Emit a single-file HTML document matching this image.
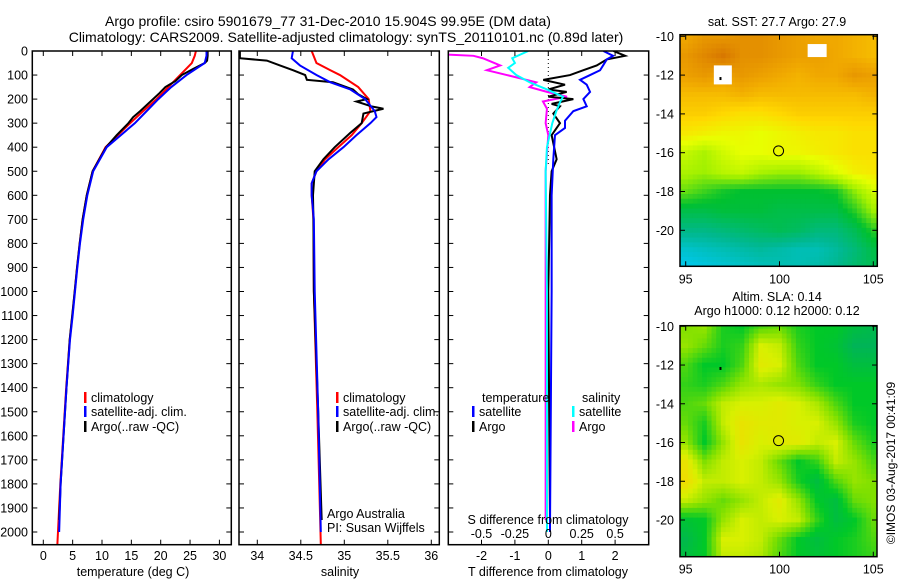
<!DOCTYPE html>
<html><head><meta charset="utf-8"><style>
html,body{margin:0;padding:0;background:#fff;}
svg{display:block;font-family:"Liberation Sans",sans-serif;}
</style></head><body>
<svg id="fig" width="900" height="580" viewBox="0 0 900 580" xmlns="http://www.w3.org/2000/svg">
<g id="titles">
<text x="328" y="26" font-size="14" text-anchor="middle">Argo profile: csiro 5901679_77 31-Dec-2010 15.904S 99.95E (DM data)</text>
<text x="346" y="42" font-size="14" text-anchor="middle">Climatology: CARS2009. Satellite-adjusted climatology: synTS_20110101.nc (0.89d later)</text>
</g>
<g id="p1"></g>
<g id="p2"></g>
<g id="p3"></g>
<g id="m1"></g>
<g id="m2"></g>
<text x="0" y="0" font-size="12" text-anchor="middle" transform="translate(895,463) rotate(-90)">©IMOS 03-Aug-2017 00:41:09</text>
</svg>
<script>
// ---- profile data ----
const depthTClim = [0,20,50,100,150,200,250,300,400,500,600,700,800,900,1000,1100,1200,1400,1600,1800,2000,2050];
const tClim = [26.0,25.8,25.3,23.3,21.3,19.3,17.0,14.8,10.6,8.4,7.4,6.7,6.2,5.75,5.35,4.95,4.5,3.9,3.4,2.9,2.5,2.4];
const depthTSat = [0,20,50,100,150,200,250,300,400,500,600,700,800,900,1000,1100,1200,1400,1600,1800,2000];
const tSat = [27.8,27.8,27.5,24.4,21.8,19.6,17.6,15.6,10.8,8.5,7.5,6.8,6.25,5.8,5.4,5.0,4.55,3.95,3.45,2.95,2.7];
const depthTArgo = [0,20,40,50,75,100,125,150,175,200,225,250,275,300,350,400,500,600,700,800,900,1000,1200,1400,1600,1800,1950];
const tArgo = [28.0,28.0,27.9,27.5,25.5,23.6,22.5,20.8,19.8,18.7,17.6,16.5,15.3,14.5,12.5,10.7,8.4,7.4,6.7,6.2,5.75,5.35,4.5,3.95,3.45,2.95,2.7];

const depthSClim = [0,50,80,100,150,200,250,300,350,400,450,500,550,600,700,1000,1500,2050];
const sClim = [34.625,34.68,34.84,34.95,35.16,35.28,35.30,35.2,35.085,34.93,34.78,34.68,34.625,34.625,34.645,34.65,34.69,34.73];
const depthSSat = [0,30,60,100,130,160,200,250,275,300,350,400,450,500,550,600,700,1000,1500,2000];
const sSat = [34.41,34.395,34.49,34.68,34.84,35.07,35.24,35.35,35.37,35.30,35.14,34.99,34.82,34.68,34.625,34.625,34.65,34.66,34.7,34.73];
const depthSArgo = [0,30,40,60,80,100,120,130,160,180,200,210,230,240,260,300,340,400,450,500,600,700,1000,1500,1950];
const sArgo = [33.8,33.8,34.11,34.26,34.41,34.55,34.57,34.87,35.10,35.16,35.26,35.14,35.31,35.45,35.22,35.2,35.07,34.89,34.76,34.66,34.64,34.645,34.65,34.7,34.74];

const depthDT = [0,20,35,60,80,100,120,140,170,200,230,250,290,320,350,450,600,1000,2000];
const dTSat = [1.65,1.94,1.75,1.64,1.55,1.25,0.95,1.15,1.25,1.05,1.15,0.75,0.5,0.5,0.2,0.15,0.1,0.1,0.05];
const depthDTA = [0,20,35,60,80,100,120,140,160,170,190,200,220,230,260,300,350,450,500,600,1000,1950];
const dTArgo = [1.95,2.3,1.75,1.45,1.05,0.65,-0.15,0.5,0,0.55,0,0.75,0.1,0.35,0.15,0.35,0.1,0.25,0.1,0.05,0.0,0.05];
const depthDS = [0,30,50,70,100,130,160,190,210,250,300,400,500,1000,2000];
const dSSat = [-0.15,-0.27,-0.25,-0.30,-0.24,-0.14,-0.01,0.11,0.09,0.06,0.03,-0.01,-0.02,-0.01,-0.01];
const depthDSA = [0,15,20,30,60,80,100,130,150,170,190,210,240,300,350,500,1000,1950];
const dSArgo = [-0.75,-0.75,-0.56,-0.49,-0.36,-0.46,-0.31,-0.09,-0.14,-0.01,0.14,-0.04,-0.01,-0.02,0.0,-0.02,-0.02,-0.02];

const depthTicks = [0,100,200,300,400,500,600,700,800,900,1000,1100,1200,1300,1400,1500,1600,1700,1800,1900,2000];
const tempTicks = [0,5,10,15,20,25,30];
const salTicks = [34,34.5,35,35.5,36];
const salTickLabels = ["34","34.5","35","35.5","36"];
const dTTicks = [-2,-1,0,1,2];
const dSTicks = [-0.5,-0.25,0,0.25,0.5];
const dSTickLabels = ["-0.5","-0.25","0","0.25","0.5"];

// ---- map data (rows lat -10..-22, cols lon 95..105) ----
const mapLons = [95,96,97,98,99,100,101,102,103,104,105];
const mapLats = [-10,-11,-12,-13,-14,-15,-16,-17,-18,-19,-20,-21,-22];
const sstGrid = [
[28.2,28.4,28.4,28.5,28.5,28.4,28.3,28.2,28.2,28.1,28.0],
[28.4,28.6,28.8,28.5,28.5,28.4,28.3,28.3,28.2,28.1,28.0],
[28.3,28.4,28.3,28.4,28.3,28.2,28.1,28.2,28.2,28.4,28.3],
[28.0,28.0,28.0,28.1,28.0,28.0,28.0,28.0,28.0,28.0,28.1],
[27.8,27.8,27.7,27.6,27.6,27.7,27.8,27.8,27.8,27.8,27.8],
[27.5,27.4,27.3,27.3,27.2,27.3,27.4,27.5,27.5,27.6,27.6],
[26.9,26.7,27.0,27.2,27.2,27.3,27.3,27.4,27.5,27.6,27.6],
[26.7,26.6,26.8,26.9,26.7,26.6,26.6,26.8,27.1,27.4,27.5],
[26.3,26.1,25.9,25.8,25.8,25.8,25.8,25.8,25.9,26.5,27.0],
[25.6,25.6,25.7,25.7,25.7,25.6,25.6,25.6,25.6,26.0,26.6],
[25.1,25.1,25.2,25.3,25.4,25.5,25.4,25.2,25.2,25.5,26.0],
[24.5,24.6,24.7,24.8,24.9,24.8,24.7,24.7,24.9,25.2,25.6],
[24.2,24.3,24.4,24.5,24.6,24.7,24.7,24.8,25.0,25.3,25.5]];
const slaGrid = [
[0.55,0.6,0.35,0.3,0.45,0.5,0.35,0.3,0.3,0.2,0.15],
[0.6,0.5,0.35,0.4,0.75,0.7,0.4,0.3,0.25,0.1,0.1],
[0.45,0.3,0.3,0.45,0.8,0.75,0.45,0.3,0.3,0.2,0.2],
[0.4,0.35,0.45,0.6,0.65,0.6,0.55,0.4,0.3,0.3,0.3],
[0.45,0.5,0.7,0.75,0.75,0.8,0.75,0.65,0.45,0.3,0.3],
[0.5,0.35,0.7,0.85,0.8,0.8,0.75,0.75,0.6,0.35,0.3],
[0.6,0.3,0.6,0.85,0.75,0.8,0.8,0.7,0.75,0.5,0.35],
[0.85,0.55,0.7,0.75,0.7,0.5,0.3,0.4,0.7,0.6,0.45],
[0.9,0.7,0.7,0.75,0.7,0.6,0.35,0.2,0.45,0.6,0.55],
[0.7,0.6,0.5,0.6,0.7,0.8,0.6,0.3,0.2,0.5,0.55],
[0.25,0.3,0.6,0.75,0.7,0.75,0.7,0.4,0.2,0.3,0.5],
[0.15,0.3,0.75,0.75,0.7,0.5,0.3,0.2,0.3,0.35,0.45],
[0.2,0.3,0.7,0.7,0.65,0.45,0.3,0.25,0.3,0.35,0.4]];
const mapLatTicks = [-10,-12,-14,-16,-18,-20];
const mapLonTicks = [95,100,105];

const NS = "http://www.w3.org/2000/svg";
function el(parent, tag, attrs, text){
  const e = document.createElementNS(NS, tag);
  for (const k in attrs) e.setAttribute(k, attrs[k]);
  if (text !== undefined) e.textContent = text;
  parent.appendChild(e);
  return e;
}
const yTop = 51, yBot = 544.7, pxPerM = (532 - 51) / 2000;
function yD(d){ return yTop + d * pxPerM; }
function makeX(px0, v0, pxPerUnit){ return v => px0 + (v - v0) * pxPerUnit; }
const xT = makeX(43.3, 0, 5.87);
const xS = makeX(257.3, 34, 87);
const xDT = makeX(548.3, 0, 33.4);
const xDS = makeX(548.3, 0, 133.6);

function drawFrame(g, x0, x1, xticks, xfn, labels, showDepthLabels, topTicks){
  const f = el(g, 'rect', {x:x0, y:yTop, width:x1-x0, height:yBot-yTop, fill:'none', stroke:'#000', 'stroke-width':1.5});
  
  
  depthTicks.forEach(d => {
    const y = yD(d);
    el(g, 'line', {x1:x0, x2:x0+5, y1:y, y2:y, stroke:'#000', 'stroke-width':1});
    el(g, 'line', {x1:x1-5, x2:x1, y1:y, y2:y, stroke:'#000', 'stroke-width':1});
    if (showDepthLabels){
      const t = el(g, 'text', {x:28, y:y+4.5, 'font-size':12.5, 'text-anchor':'end'}, String(d));
      
      
    }
  });
  xticks.forEach((v,i) => {
    const x = xfn(v);
    el(g, 'line', {x1:x, x2:x, y1:yBot, y2:yBot-5, stroke:'#000', 'stroke-width':1});
    if (topTicks) el(g, 'line', {x1:x, x2:x, y1:yTop, y2:yTop+5, stroke:'#000', 'stroke-width':1});
    if (labels){
      const t = el(g, 'text', {x:x, y:560, 'font-size':12.5, 'text-anchor':'middle'}, labels[i]);
      
      
    }
  });
}
function drawLine(g, depths, vals, xfn, color, name){
  const d = depths.map((dd,i) => (i?'L':'M') + xfn(vals[i]).toFixed(2) + ',' + yD(dd).toFixed(2)).join(' ');
  const p = el(g, 'path', {d:d, fill:'none', stroke:color, 'stroke-width':2, 'stroke-linejoin':'miter'});
  
  
  return p;
}
function legend(g, x, y, color, label){
  if (color) el(g, 'rect', {x:x, y:y-10, width:2.5, height:11, fill:color});
  const t = el(g, 'text', {x:x+7, y:y, 'font-size':12.5}, label);
  
  
}

// Panel 1
const p1 = document.getElementById('p1');
const c1 = el(p1, 'clipPath', {id:'cl1'}); el(c1, 'rect', {x:32.3, y:yTop, width:199, height:yBot-yTop});
const g1 = el(p1, 'g', {'clip-path':'url(#cl1)'});
drawLine(g1, depthTClim, tClim, xT, '#f00', 'temp-climatology-line');
drawLine(g1, depthTArgo, tArgo, xT, '#000', 'temp-argo-line');
drawLine(g1, depthTSat, tSat, xT, '#00f', 'temp-satellite-line');
drawFrame(p1, 32.3, 231.3, tempTicks, xT, tempTicks.map(String), true, true);
el(p1, 'text', {x:133, y:576, 'font-size':12.5, 'text-anchor':'middle',  }, 'temperature (deg C)');
legend(p1, 84, 402, '#f00', 'climatology');
legend(p1, 84, 416, '#00f', 'satellite-adj. clim.');
legend(p1, 84, 431, '#000', 'Argo(..raw -QC)');

// Panel 2
const p2 = document.getElementById('p2');
const c2 = el(p2, 'clipPath', {id:'cl2'}); el(c2, 'rect', {x:239, y:yTop, width:200.3, height:yBot-yTop});
const g2 = el(p2, 'g', {'clip-path':'url(#cl2)'});
drawLine(g2, depthSClim, sClim, xS, '#f00', 'sal-climatology-line');
drawLine(g2, depthSArgo, sArgo, xS, '#000', 'sal-argo-line');
drawLine(g2, depthSSat, sSat, xS, '#00f', 'sal-satellite-line');
drawFrame(p2, 239, 439.3, salTicks, xS, salTickLabels, false, true);
el(p2, 'text', {x:340, y:576, 'font-size':12.5, 'text-anchor':'middle',  }, 'salinity');
legend(p2, 336, 402, '#f00', 'climatology');
legend(p2, 336, 416, '#00f', 'satellite-adj. clim.');
legend(p2, 336, 431, '#000', 'Argo(..raw -QC)');
el(p2, 'text', {x:327, y:518, 'font-size':12.5,  }, 'Argo Australia');
el(p2, 'text', {x:327, y:532, 'font-size':12.5,  }, 'PI: Susan Wijffels');

// Panel 3
const p3 = document.getElementById('p3');
const c3 = el(p3, 'clipPath', {id:'cl3'}); el(c3, 'rect', {x:448.3, y:yTop, width:200.4, height:yBot-yTop});
const g3 = el(p3, 'g', {'clip-path':'url(#cl3)'});
el(g3, 'line', {x1:xDT(0), x2:xDT(0), y1:yTop, y2:yD(480), stroke:'#000', 'stroke-width':1, 'stroke-dasharray':'1,3',  });
drawLine(g3, depthDSA, dSArgo, xDS, '#f0f', 'sal-diff-argo-line');
drawLine(g3, depthDTA, dTArgo, xDT, '#000', 'temp-diff-argo-line');
drawLine(g3, depthDT, dTSat, xDT, '#00f', 'temp-diff-satellite-line');
drawLine(g3, depthDS, dSSat, xDS, '#0ff', 'sal-diff-satellite-line');
drawFrame(p3, 448.3, 648.7, dTTicks, xDT, dTTicks.map(String), false, true);
dSTicks.forEach((v,i) => {
  const t = el(p3, 'text', {x:xDS(v), y:538, 'font-size':12.5, 'text-anchor':'middle'}, dSTickLabels[i]);
  
  
});
el(p3, 'text', {x:548, y:524, 'font-size':12.5, 'text-anchor':'middle',  }, 'S difference from climatology');
el(p3, 'text', {x:548, y:576, 'font-size':12.5, 'text-anchor':'middle',  }, 'T difference from climatology');
legend(p3, 475, 402, null, 'temperature');
legend(p3, 472, 416, '#00f', 'satellite');
legend(p3, 472, 431, '#000', 'Argo');
legend(p3, 575, 402, null, 'salinity');
legend(p3, 572, 416, '#0ff', 'satellite');
legend(p3, 572, 431, '#f0f', 'Argo');

// Maps
function interpColor(stops, v){
  if (v <= stops[0][0]) return 'rgb(' + stops[0][1].join(',') + ')';
  for (let i=1;i<stops.length;i++){
    if (v <= stops[i][0]){
      const a = stops[i-1], b = stops[i], t = (v-a[0])/(b[0]-a[0]);
      const c = a[1].map((x,k) => Math.round(x + (b[1][k]-x)*t));
      return 'rgb(' + c.join(',') + ')';
    }
  }
  return 'rgb(' + stops[stops.length-1][1].join(',') + ')';
}
const sstStops = [[24.2,[0,200,240]],[25.0,[0,184,144]],[25.8,[0,192,48]],[26.6,[160,240,0]],[27.2,[232,255,0]],[27.7,[255,216,0]],[28.2,[240,168,0]],[28.8,[216,120,0]],[29.3,[192,80,0]]];
const slaStops = [[0,[0,170,110]],[0.3,[0,200,40]],[0.55,[128,224,0]],[0.75,[216,240,0]],[1,[255,208,0]]];

function sampleGrid(grid, lon, lat){
  const fj = Math.max(0, Math.min(mapLons.length-1.001, lon - mapLons[0]));
  const fi = Math.max(0, Math.min(mapLats.length-1.001, mapLats[0] - lat));
  const j = Math.floor(fj), i = Math.floor(fi), tj = fj - j, ti = fi - i;
  const a = grid[i][j], b = grid[i][j+1], c = grid[i+1][j], d = grid[i+1][j+1];
  return (a*(1-tj) + b*tj)*(1-ti) + (c*(1-tj) + d*tj)*ti;
}

function drawMap(gid, boxX, boxY, boxW, boxH, lat0y, pxLat, grid, stops, titles, clipId){
  const g = document.getElementById(gid);
  const lonX = l => 685.7 + (l - 95) * 18.76;
  const latY = a => lat0y + (-10 - a) * pxLat;
  const cp = el(g, 'clipPath', {id:clipId}); el(cp, 'rect', {x:boxX, y:boxY, width:boxW, height:boxH});
  const cg = el(g, 'g', {'clip-path':'url(#' + clipId + ')'});
  const step = 0.25;
  for (let lat = -9.75; lat >= -22; lat -= step){
    for (let lon = 94.75; lon <= 105.5; lon += step){
      const v = sampleGrid(grid, lon, lat);
      const r = el(cg, 'rect', {x:lonX(lon-step/2).toFixed(2), y:latY(lat+step/2).toFixed(2), width:(18.76*step+0.5).toFixed(2), height:(pxLat*step+0.5).toFixed(2), fill:interpColor(stops, v)});
      
      
    }
  }
  el(g, 'rect', {x:boxX, y:boxY, width:boxW, height:boxH, fill:'none', stroke:'#000', 'stroke-width':1.5});
  mapLatTicks.forEach(a => {
    const y = latY(a);
    el(g, 'line', {x1:boxX, x2:boxX+5, y1:y, y2:y, stroke:'#000'});
    el(g, 'line', {x1:boxX+boxW-5, x2:boxX+boxW, y1:y, y2:y, stroke:'#000'});
    const t = el(g, 'text', {x:674, y:y+4.5, 'font-size':12.5, 'text-anchor':'end'}, String(a));
    
    
  });
  mapLonTicks.forEach(l => {
    const x = lonX(l);
    el(g, 'line', {x1:x, x2:x, y1:boxY, y2:boxY+5, stroke:'#000'});
    el(g, 'line', {x1:x, x2:x, y1:boxY+boxH-5, y2:boxY+boxH, stroke:'#000'});
    const t = el(g, 'text', {x:x, y:boxY+boxH+17, 'font-size':12.5, 'text-anchor':'middle'}, String(l));
    
    
  });
  const c = el(g, 'circle', {cx:lonX(99.95), cy:latY(-15.904), r:5, fill:'none', stroke:'#000', 'stroke-width':1});
  
  
  titles.forEach(tt => {
    const t = el(g, 'text', {x:777, y:tt[1], 'font-size':12.5, 'text-anchor':'middle'}, tt[0]);
    
    
  });
  return {g, lonX, latY};
}
const m1 = drawMap('m1', 680, 34.7, 197.3, 231.6, 36.3, 19.4, sstGrid, sstStops, [['sat. SST: 27.7 Argo: 27.9', 26]], 'clm1');
el(m1.g, 'rect', {x:m1.lonX(96.5), y:m1.latY(-11.5), width:18, height:19, fill:'#fff',  });
el(m1.g, 'rect', {x:m1.lonX(101.5), y:m1.latY(-10.4), width:19, height:13, fill:'#fff',  });
el(m1.g, 'rect', {x:m1.lonX(96.8), y:m1.latY(-12.1), width:2, height:3, fill:'#000'});
const m2 = drawMap('m2', 680, 325.7, 197, 231, 326.3, 19.37, slaGrid, slaStops, [['Altim. SLA: 0.14', 301], ['Argo h1000: 0.12 h2000: 0.12', 315]], 'clm2');
el(m2.g, 'rect', {x:m2.lonX(96.8), y:m2.latY(-12.1), width:2, height:3, fill:'#000'});
</script>
</body></html>
